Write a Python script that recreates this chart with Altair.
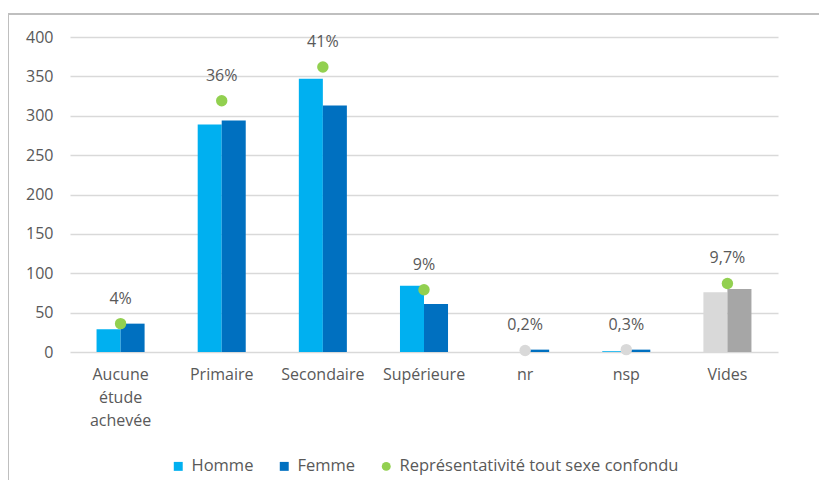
import altair as alt
import pandas as pd

categories = ["Aucune étude achevée", "Primaire", "Secondaire", "Supérieure", "nr", "nsp", "Vides"]
homme = [29, 289, 347, 84, 0, 1, 76]
femme = [36, 294, 313, 61, 3, 3, 80]
represent = [36, 319, 362, 79, 2, 3, 87]
represent_labels = ["4%", "36%", "41%", "9%", "0,2%", "0,3%", "9,7%"]
y_ticks = [0, 50, 100, 150, 200, 250, 300, 350, 400]

K_H, K_F, K_R = "Homme", "Femme", "Représentativité tout sexe confondu"
K_HV, K_FV, K_RG = "Homme (vides)", "Femme (vides)", "Représentativité (nr/nsp)"
domain = [K_H, K_F, K_R, K_HV, K_FV, K_RG]
colors = ["#00B0F0", "#0070C0", "#92D050", "#D9D9D9", "#A6A6A6", "#D9D9D9"]
shapes = ["square", "square", "circle", "square", "square", "circle"]

rows = []
for c, h, f in zip(categories, homme, femme):
    rows.append({"cat": c, "sexe": "Homme", "value": h, "key": K_HV if c == "Vides" else K_H})
    rows.append({"cat": c, "sexe": "Femme", "value": f, "key": K_FV if c == "Vides" else K_F})
bars_df = pd.DataFrame(rows)

pts_df = pd.DataFrame({
    "cat": categories,
    "value": represent,
    "label": represent_labels,
    "key": [K_RG if c in ("nr", "nsp") else K_R for c in categories],
})

FONT = "Open Sans"
TXT = "#595959"
FS = 16
W, H = 708, 315

legend = alt.Legend(
    values=[K_H, K_F, K_R], title=None, orient="none", direction="horizontal",
    legendX=100, legendY=421, symbolSize=80, labelFontSize=16.5, labelFont=FONT,
    labelColor=TXT, columnPadding=22, labelOffset=5, symbolStrokeWidth=0,
    labelLimit=400,
)

xaxis = alt.Axis(labelAngle=0, ticks=False, domain=False, grid=False, labelFont=FONT,
                 labelFontSize=FS, labelColor=TXT, labelPadding=14,
                 labelLineHeight=23, labelBaseline="top",
                 labelExpr="datum.value == 'Aucune étude achevée' ? ['Aucune','étude','achevée'] : datum.value")
yaxis = alt.Axis(values=y_ticks, ticks=False, domain=False,
                 labelFont=FONT, labelFontSize=FS, labelColor=TXT, labelPadding=17,
                 gridColor="#D9D9D9", gridWidth=1.5)

xenc = alt.X("cat:N", sort=categories, title=None,
             scale=alt.Scale(paddingInner=0.525, paddingOuter=0.2625), axis=xaxis)
yenc = alt.Y("value:Q", scale=alt.Scale(domain=[0, 400]), title=None, axis=yaxis)

color_enc = alt.Color("key:N", scale=alt.Scale(domain=domain, range=colors), legend=legend)

bars = alt.Chart(bars_df).mark_bar().encode(
    x=xenc,
    xOffset=alt.XOffset("sexe:N", sort=["Homme", "Femme"], scale=alt.Scale(paddingInner=0, paddingOuter=0)),
    y=yenc,
    color=color_enc,
)

points = alt.Chart(pts_df).mark_point(filled=True, size=130, opacity=1).encode(
    x=xenc,
    y=yenc,
    color=color_enc,
    shape=alt.Shape("key:N", scale=alt.Scale(domain=domain, range=shapes), legend=legend),
)

labels = alt.Chart(pts_df).mark_text(dy=-25, font=FONT, fontSize=FS, color=TXT).encode(
    x=xenc,
    y=yenc,
    text="label:N",
)

frame_df = pd.DataFrame({"f": [0]})
frame_top = alt.Chart(frame_df).mark_rule(color="#BFBFBF", strokeWidth=2, clip=False).encode(
    x=alt.value(-62), x2=alt.value(W + 200), y=alt.value(-23))
frame_left = alt.Chart(frame_df).mark_rule(color="#BFBFBF", strokeWidth=2, clip=False).encode(
    x=alt.value(-62), y=alt.value(-23), y2=alt.value(H + 300))

chart = alt.layer(frame_top, frame_left, bars, points, labels).properties(
    width=W, height=H,
    background="white",
    autosize=alt.AutoSizeParams(type="none"),
    padding={"left": 62, "top": 29, "right": 41, "bottom": 128},
).configure(
    view=alt.ViewConfig(stroke="transparent", strokeWidth=0),
    axis=alt.AxisConfig(domain=False, ticks=False),
    style={"cell": {"stroke": "transparent", "strokeWidth": 0}},
)

chart.save("out.html", embed_options={"renderer": "svg", "actions": False})
